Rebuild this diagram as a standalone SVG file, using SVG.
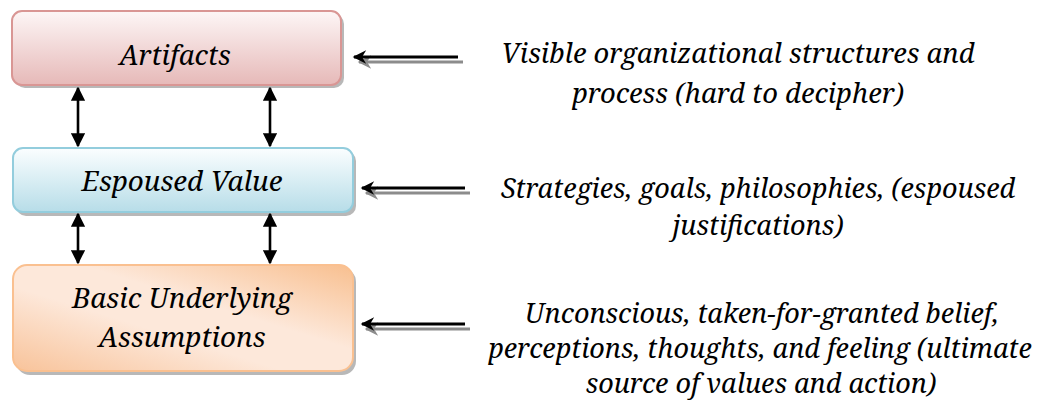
<svg xmlns="http://www.w3.org/2000/svg" width="1054" height="401" viewBox="0 0 1054 401">
<style>
.lbl{font-style:italic;fill:#000;text-anchor:middle}
.conn{stroke:#000;stroke-width:2.6;fill:none}
.hl{stroke:#000;stroke-width:3;fill:none}
.hls{stroke:#8c8c8c;stroke-width:3;fill:none}
.shadow{fill:#a6a6a6;opacity:0.8}
</style>
<defs>
<linearGradient id="gPink" x1="0" y1="0" x2="0" y2="1">
<stop offset="0" stop-color="#fdf6f6"/>
<stop offset="1" stop-color="#e6b9b8"/>
</linearGradient>
<linearGradient id="gBlue" x1="0" y1="0" x2="0" y2="1">
<stop offset="0" stop-color="#fbfeff"/>
<stop offset="1" stop-color="#b7dde8"/>
</linearGradient>
<linearGradient id="gOrange" x1="1" y1="0" x2="0" y2="1">
<stop offset="0" stop-color="#f8bf8f"/>
<stop offset="0.4" stop-color="#fde8da"/>
<stop offset="0.6" stop-color="#fde8da"/>
<stop offset="1" stop-color="#f8c39a"/>
</linearGradient>
<marker id="ah" viewBox="0 0 10 10" refX="9" refY="5" markerWidth="5.5" markerHeight="5.5" orient="auto-start-reverse" markerUnits="strokeWidth">
<path d="M0,0 L10,5 L0,10 z" fill="#000"/>
</marker>
<marker id="hh" viewBox="0 0 10 10" refX="9" refY="5" markerWidth="6" markerHeight="4.5" orient="auto-start-reverse" markerUnits="strokeWidth">
<path d="M0,0 L10,5 L0,10 L3,5 z" fill="#000"/>
</marker>
<marker id="hhs" viewBox="0 0 10 10" refX="9" refY="5" markerWidth="6" markerHeight="4.5" orient="auto-start-reverse" markerUnits="strokeWidth">
<path d="M0,0 L10,5 L0,10 L3,5 z" fill="#8c8c8c"/>
</marker>
</defs>

<g id="node-artifacts" font-family="Noto Serif, Liberation Serif, serif" font-size="27.5">
<rect class="shadow" x="15" y="14" width="329" height="74" rx="10"/>
<rect x="12" y="11" width="329" height="74" rx="10" fill="url(#gPink)" stroke="#d99694" stroke-width="2"/>
<text class="lbl" x="175" y="65">Artifacts</text>
</g>

<g id="node-espoused" font-family="Noto Serif, Liberation Serif, serif" font-size="27.8">
<rect class="shadow" x="16" y="151" width="340" height="65" rx="10"/>
<rect x="13" y="148" width="340" height="64" rx="10" fill="url(#gBlue)" stroke="#93cddd" stroke-width="2"/>
<text class="lbl" x="182" y="191">Espoused Value</text>
</g>

<g id="node-basic" font-family="Noto Serif, Liberation Serif, serif" font-size="27.8">
<rect class="shadow" x="16" y="268" width="340" height="107" rx="14"/>
<rect x="13" y="265" width="340" height="106" rx="14" fill="url(#gOrange)" stroke="#fac090" stroke-width="2"/>
<text class="lbl" x="182" y="308">Basic Underlying</text>
<text class="lbl" x="182" y="347">Assumptions</text>
</g>

<g id="connectors">
<line class="conn" x1="78" y1="88" x2="78" y2="146" marker-start="url(#ah)" marker-end="url(#ah)"/>
<line class="conn" x1="270" y1="88" x2="270" y2="146" marker-start="url(#ah)" marker-end="url(#ah)"/>
<line class="conn" x1="78" y1="214" x2="78" y2="263" marker-start="url(#ah)" marker-end="url(#ah)"/>
<line class="conn" x1="270" y1="214" x2="270" y2="263" marker-start="url(#ah)" marker-end="url(#ah)"/>

<line class="hls" x1="463" y1="62" x2="359" y2="62" marker-end="url(#hhs)"/>
<line class="hl" x1="458" y1="57" x2="354" y2="57" marker-end="url(#hh)"/>

<line class="hls" x1="470" y1="193" x2="366" y2="193" marker-end="url(#hhs)"/>
<line class="hl" x1="465" y1="188" x2="362" y2="188" marker-end="url(#hh)"/>

<line class="hls" x1="470" y1="329" x2="366" y2="329" marker-end="url(#hhs)"/>
<line class="hl" x1="465" y1="324" x2="362" y2="324" marker-end="url(#hh)"/>
</g>

<g id="descriptions" font-family="Noto Serif, Liberation Serif, serif">
<g font-size="27.4">
<text class="lbl" x="738" y="63">Visible organizational structures and</text>
<text class="lbl" x="738" y="103">process (hard to decipher)</text>
</g>
<g font-size="27">
<text class="lbl" x="758" y="198">Strategies, goals, philosophies, (espoused</text>
<text class="lbl" x="758" y="235">justifications)</text>
<text class="lbl" x="762" y="323">Unconscious, taken-for-granted belief,</text>
<text class="lbl" x="760" y="358">perceptions, thoughts, and feeling (ultimate</text>
<text class="lbl" x="761" y="393">source of values and action)</text>
</g>
</g>
</svg>
